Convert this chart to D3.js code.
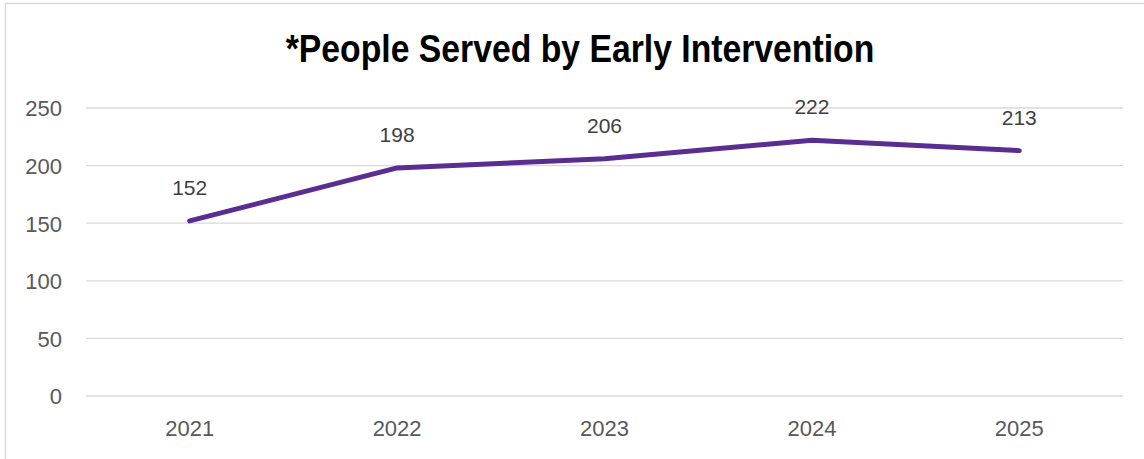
<!DOCTYPE html>
<html><head><meta charset="utf-8">
<script src="https://cdn.jsdelivr.net/npm/d3@7"></script>
<style>html,body{margin:0;padding:0;background:#fff;}svg{display:block;}</style>
</head><body>
<svg id="c" width="1144" height="459"></svg>
<script>
const categories = ["2021","2022","2023","2024","2025"];
const values = [152,198,206,222,213];
const yTicks = [0,50,100,150,200,250];
const title = "*People Served by Early Intervention";

const svg = d3.select("#c");
svg.append("rect").attr("x",5.5).attr("y",3.5).attr("width",1150).attr("height",470)
  .attr("fill","#fff").attr("stroke","#d9d9d9").attr("stroke-width",1.5);

const x = d3.scaleBand().domain(categories).range([86,1123]);
const y = d3.scaleLinear().domain([0,250]).range([396,108]);

const grid = svg.append("g");
grid.selectAll("line").data(yTicks).join("line")
  .attr("x1",86).attr("x2",1123)
  .attr("y1",d=>y(d)).attr("y2",d=>y(d))
  .attr("stroke","#d9d9d9").attr("stroke-width",1.3);

const yAxis = svg.append("g").attr("transform","translate(62,0)")
  .call(d3.axisLeft(y).tickValues(yTicks).tickSize(0).tickPadding(0));
yAxis.select(".domain").remove();
yAxis.selectAll("text").attr("font-family","Liberation Sans, Arial, sans-serif")
  .attr("font-size",22).attr("fill","#595959").attr("dy","0.36em");

const xAxis = svg.append("g").attr("transform","translate(0,396)")
  .call(d3.axisBottom(x).tickSize(0).tickPadding(0));
xAxis.select(".domain").remove();
xAxis.selectAll("text").attr("font-family","Liberation Sans, Arial, sans-serif")
  .attr("font-size",22).attr("fill","#595959").attr("dy",null).attr("y",40);

const cx = d => x(d) + x.bandwidth()/2;
const line = d3.line().x((d,i)=>cx(categories[i])).y(d=>y(d));
svg.append("path").datum(values).attr("d",line)
  .attr("fill","none").attr("stroke","#5a2d91").attr("stroke-width",5)
  .attr("stroke-linejoin","round").attr("stroke-linecap","round");

svg.append("g").selectAll("text").data(values).join("text")
  .attr("x",(d,i)=>cx(categories[i])).attr("y",d=>y(d)-26)
  .attr("text-anchor","middle")
  .attr("font-family","Liberation Sans, Arial, sans-serif")
  .attr("font-size",21).attr("fill","#404040").text(d=>d);

svg.append("text").attr("transform","translate(580,62) scale(0.865,1)").attr("text-anchor","middle")
  .attr("font-family","Liberation Sans, Arial, sans-serif")
  .attr("font-weight","bold").attr("font-size",39).attr("fill","#000").text(title);
</script>
</body></html>
